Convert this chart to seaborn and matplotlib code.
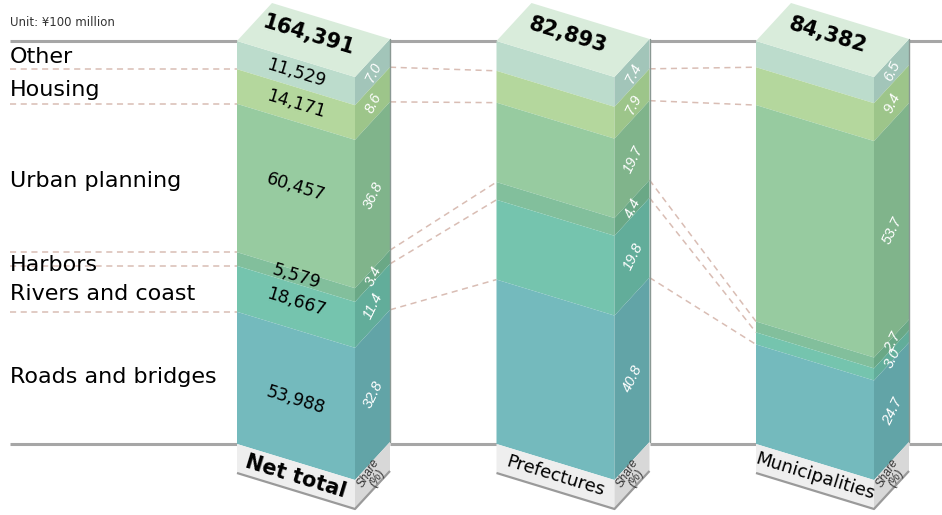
import numpy as np
import pandas as pd
import matplotlib
matplotlib.use("Agg")
import matplotlib.pyplot as plt
from matplotlib.patches import Polygon
import seaborn as sns

# ---- data -------------------------------------------------------------
categories = ["Other", "Housing", "Urban planning", "Harbors",
              "Rivers and coast", "Roads and bridges"]
groups = ["Net total", "Prefectures", "Municipalities"]
totals = [164391, 82893, 84382]
net_values = [11529, 14171, 60457, 5579, 18667, 53988]
share_net = [7.0, 8.6, 36.8, 3.4, 11.4, 32.8]
share_pref = [7.4, 7.9, 19.7, 4.4, 19.8, 40.8]
share_muni = [6.5, 9.4, 53.7, 2.7, 3.0, 24.7]
unit_label = "Unit: ¥100 million"
share_label = "Share\n(%)"

# ---- style ------------------------------------------------------------
sns.set_theme(style="white")
plt.rcParams["font.family"] = ["DejaVu Sans"]
narrow = ["Liberation Sans Narrow", "Liberation Sans", "DejaVu Sans"]

front_cols = ["#bcdccc", "#b4d79d", "#97cba0", "#82bf9c", "#75c4ae", "#74babd"]
side_cols = ["#a2c5b9", "#9dc58a", "#80b48b", "#6aa886", "#62ad9a", "#62a4a7"]
top_col = "#d9ecdb"
band_front, band_side = "#eeeeee", "#d8d8d8"
rule_col = "#a6a6a6"
dash_col = "#d9bdb4"

# geometry of the oblique boxes (pixels)
PX = 4.03                      # pixels per percentage point
X0 = [237, 496.5, 756]         # left edge of each front face
W, D = 118, 35                 # front width, side depth
DV = 36 / PX                   # front face slope (drop over W)
RV = 38 / PX                   # side face rise over D
BAND = 29 / PX                 # label plate height
MIN_GAP = 16 / PX              # minimum spacing of side-face share labels

fig = plt.figure(figsize=(9.42, 5.15), dpi=100)
ax = fig.add_axes([0, 0, 1, 1])

all_shares = [share_net, share_pref, share_muni]


def poly(pts, color, z=2, **kw):
    ax.add_patch(Polygon(pts, closed=True, facecolor=color,
                         edgecolor="none", zorder=z, **kw))


# dashed connectors between category boundaries
rows = []
bounds = [100 - np.cumsum(s)[:-1] for s in all_shares]
for k in range(len(categories) - 1):
    rows.append(dict(x=10, y=bounds[0][k], seg=f"L{k}"))
    rows.append(dict(x=X0[0], y=bounds[0][k], seg=f"L{k}"))
    for i in range(len(X0) - 1):
        sid = f"C{i}_{k}"
        rows.append(dict(x=X0[i] + W + D, y=bounds[i][k] - DV + RV, seg=sid))
        rows.append(dict(x=X0[i + 1], y=bounds[i + 1][k], seg=sid))
conn = pd.DataFrame(rows)
sns.lineplot(data=conn, x="x", y="y", units="seg", estimator=None,
             sort=False, color=dash_col, lw=1.1, ax=ax, zorder=1,
             linestyle=(0, (4, 3)), legend=False)
ax.set_xlim(0, 942)
ax.set_ylim((444 - 515) / PX, 444 / PX)
ax.axis("off")

# horizontal rules at 100 % and 0 %
for lvl in (100, 0):
    segs = [(10, X0[0])]
    for i in range(len(X0) - 1):
        segs.append((X0[i] + W + D, X0[i + 1]))
    segs.append((X0[-1] + W + D, 942))
    for a, b in segs:
        ax.plot([a, b], [lvl, lvl], color=rule_col, lw=2.2, zorder=1,
                solid_capstyle="butt")

# stacked oblique boxes
for gi, shares in enumerate(all_shares):
    x0 = X0[gi]
    cum = np.cumsum(shares)
    tops = 100 - np.concatenate([[0], cum[:-1]])
    bots = 100 - cum
    bots[-1] = 0
    for k in range(len(shares)):
        hi, lo = tops[k], bots[k]
        poly([(x0, lo), (x0, hi), (x0 + W, hi - DV), (x0 + W, lo - DV)],
             front_cols[k])
        poly([(x0 + W, lo - DV), (x0 + W, hi - DV),
              (x0 + W + D, hi - DV + RV), (x0 + W + D, lo - DV + RV)],
             side_cols[k])
    # share labels on the side face, spread apart where layers are thin
    ys = [(tops[k] + bots[k]) / 2 - DV + RV / 2 for k in range(len(shares))]
    for k in range(1, len(ys)):
        if ys[k - 1] - ys[k] < MIN_GAP:
            shift = (MIN_GAP - (ys[k - 1] - ys[k])) / 2
            ys[k - 1] += shift
            ys[k] -= shift
    for k in range(len(shares)):
        ax.text(x0 + W + D / 2 + 1, ys[k], f"{shares[k]:.1f}",
                color="white", fontsize=10.5, family=narrow, style="italic",
                rotation=64, ha="center", va="center", zorder=5)
    # top face
    poly([(x0, 100), (x0 + D, 100 + RV), (x0 + W + D, 100 - DV + RV),
          (x0 + W, 100 - DV)], top_col)
    # back edge line
    ax.plot([x0 + W + D, x0 + W + D], [0 - DV + RV, 100 - DV + RV],
            color="#8a9893", lw=1.0, zorder=3)
    # label plate below the box
    poly([(x0, 0), (x0 + W, -DV), (x0 + W, -DV - BAND), (x0, -BAND)],
         band_front)
    poly([(x0 + W, -DV), (x0 + W + D, -DV + RV), (x0 + W + D, -DV + RV - BAND),
          (x0 + W, -DV - BAND)], band_side)
    ax.plot([x0, x0 + W, x0 + W + D],
            [-BAND, -DV - BAND, -DV + RV - BAND],
            color="#9a9a9a", lw=1.6, zorder=3, solid_capstyle="butt")
    bold = gi == 0
    ax.text(x0 + W / 2, -BAND / 2 - DV / 2, groups[gi],
            fontsize=15 if bold else 13, fontweight="bold" if bold else "normal",
            rotation=-17, ha="center", va="center", color="black", zorder=5)
    ax.text(x0 + W + D / 2, -BAND / 2 - DV + RV / 2, share_label,
            fontsize=8.5, family=narrow, style="italic", rotation=58,
            ha="center", va="center", color="#333333", linespacing=0.85,
            zorder=5)
    # total on the top face
    ax.text(x0 + (W + D) / 2 - 5, 100 + (RV - DV) / 2 + 5 / PX,
            f"{totals[gi]:,}", fontsize=15, fontweight="bold",
            rotation=-17, ha="center", va="center", color="black", zorder=5)

    if gi == 0:
        nudges = [0, 0, 9, 0, 5, -4]
        for k in range(len(shares)):
            yc = (tops[k] + bots[k]) / 2 - DV / 2 + nudges[k] / PX
            ax.text(x0 + W / 2, yc, f"{net_values[k]:,}", fontsize=12.5,
                    rotation=-17, ha="center", va="center", color="black",
                    zorder=5)
        # category names on the left
        lab_nudge = [-2, -3, -3, -6, -5, 1]
        for k, name in enumerate(categories):
            yc = (tops[k] + bots[k]) / 2 + lab_nudge[k] / PX
            ax.text(10, yc, name, fontsize=16, ha="left", va="center",
                    color="black", zorder=5)

ax.text(10, (444 - 22) / PX, unit_label, fontsize=8.5, ha="left",
        va="center", color="#333333")

fig.savefig("out.png", dpi=100)
